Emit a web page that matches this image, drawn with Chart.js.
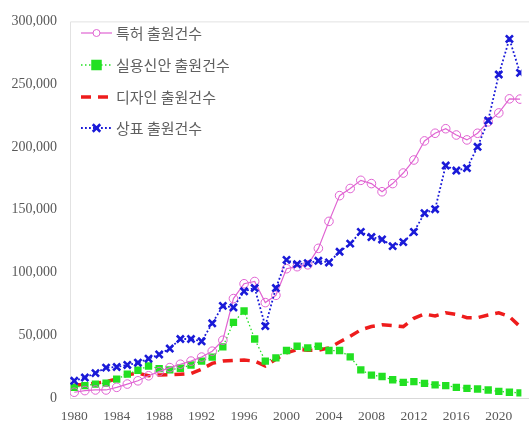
<!DOCTYPE html>
<html><head><meta charset="utf-8">
<script src="https://cdn.jsdelivr.net/npm/chart.js@4"></script>
<style>html,body{margin:0;padding:0;background:#fff;overflow:hidden}#wrap{width:529px;height:421px;position:relative}</style>
</head><body><div id="wrap"><canvas id="c" width="529" height="421"></canvas></div>
<script>
const years = [1980,1981,1982,1983,1984,1985,1986,1987,1988,1989,1990,1991,1992,1993,1994,1995,1996,1997,1998,1999,2000,2001,2002,2003,2004,2005,2006,2007,2008,2009,2010,2011,2012,2013,2014,2015,2016,2017,2018,2019,2020,2021,2022];
const seriesNames = ['특허 출원건수','실용신안 출원건수','디자인 출원건수','상표 출원건수'];
const patents = [4600,5900,6400,6400,8500,11100,13700,17700,21000,24200,26900,29400,32600,37300,46000,79200,91000,92800,76000,81800,103000,104600,106100,119200,140700,161200,166900,173400,170800,164300,170800,179200,189600,204800,210900,214500,209500,205600,210900,220000,227100,238300,238100];
const utility = [8500,9800,11100,11900,15000,19000,22100,25500,23400,22400,23700,26300,29400,32600,40700,60300,69300,47000,29400,32000,37800,41200,39900,41200,37800,37800,32800,22400,18200,17100,14500,12400,13000,11600,10400,9800,8500,7700,7200,6400,5300,4600,4100];
const designs = [10400,10800,11800,13000,15200,18500,19800,17700,18400,18500,19000,19500,22900,27600,29400,30000,30200,29400,25500,30800,36000,38600,38100,38100,39900,44600,49100,54300,56900,58300,57700,56900,63500,66900,65300,67900,66600,64000,64000,66100,67900,64800,56900];
const trademarks = [13700,16300,19800,24200,24700,26300,28100,31300,34700,39400,47000,47000,45200,59500,73400,72100,85000,87600,57300,87600,110000,106600,107400,109300,108000,116500,123000,132300,128200,126300,121000,124200,132300,147200,150400,185200,181200,183100,200100,221000,257700,286000,259000];
const xTicks = [1980,1984,1988,1992,1996,2000,2004,2008,2012,2016,2020];
const yTicks = [0,50000,100000,150000,200000,250000,300000];

const pts = arr => arr.map((v,i)=>({x:years[i], y:v}));
const PINK='#e064d2', GREEN='#22e022', RED='#ee1c1c', BLUE='#1a1ad8';

const datasets = [
 {label:seriesNames[0], data:pts(patents), borderColor:PINK, backgroundColor:'rgba(0,0,0,0)', borderWidth:1.2, pointStyle:'circle', pointRadius:4.3, pointBorderWidth:1, pointBorderColor:PINK, pointBackgroundColor:'rgba(255,255,255,0)', order:1},
 {label:seriesNames[1], data:pts(utility), borderColor:GREEN, backgroundColor:GREEN, borderWidth:1.3, borderDash:[1.5,2.5], pointStyle:'rect', pointRadius:5.2, pointBorderWidth:0, pointBackgroundColor:GREEN, order:2},
 {label:seriesNames[2], data:pts(designs), borderColor:RED, backgroundColor:RED, borderWidth:3.5, borderDash:[10,7], pointRadius:0, order:3},
 {label:seriesNames[3], data:pts(trademarks), borderColor:BLUE, backgroundColor:BLUE, borderWidth:1.8, borderDash:[1.8,2.2], pointStyle:'crossRot', pointRadius:5, pointBorderWidth:2.6, pointBorderColor:BLUE, order:0}
];

function marker(ctx, style, x, y, r, color, bw){
  ctx.save();
  ctx.setLineDash([]);
  if(style==='circle'){ctx.strokeStyle=color;ctx.lineWidth=bw;ctx.beginPath();ctx.arc(x,y,r,0,Math.PI*2);ctx.fillStyle='#fff';ctx.fill();ctx.stroke();}
  else if(style==='rect'){ctx.fillStyle=color;const s=r*Math.SQRT2/1.4;ctx.fillRect(x-s,y-s,2*s,2*s);}
  else if(style==='crossRot'){ctx.strokeStyle=color;ctx.lineWidth=bw;const d=r*0.75;ctx.beginPath();ctx.moveTo(x-d,y-d);ctx.lineTo(x+d,y+d);ctx.moveTo(x+d,y-d);ctx.lineTo(x-d,y+d);ctx.stroke();}
  ctx.restore();
}

const frameLegend = {
  id:'frameLegend',
  beforeDatasetsDraw(chart){
    const {ctx, chartArea:a} = chart;
    ctx.save();
    ctx.strokeStyle='#e2e2e2'; ctx.lineWidth=1;
    ctx.beginPath();
    ctx.moveTo(a.left+0.5, a.bottom); ctx.lineTo(a.left+0.5, a.top+0.5); ctx.lineTo(chart.width, a.top+0.5);
    ctx.stroke();
    ctx.strokeStyle='#d9d9d9';
    ctx.beginPath(); ctx.moveTo(a.left, a.bottom+0.5); ctx.lineTo(chart.width, a.bottom+0.5); ctx.stroke();
    ctx.restore();
  },
  afterDraw(chart){
    const ctx = chart.ctx;
    const rows = [33,65,97,128];
    chart.data.datasets.forEach((ds,i)=>{
      const y = rows[i];
      ctx.save();
      ctx.strokeStyle = ds.borderColor;
      ctx.lineWidth = ds.borderWidth;
      ctx.setLineDash(ds.borderDash||[]);
      ctx.beginPath(); ctx.moveTo(81,y); ctx.lineTo(112,y); ctx.stroke();
      ctx.restore();
      if(ds.pointRadius>0) marker(ctx, ds.pointStyle, 96.5, y, ds.pointStyle==='circle'?3.5:ds.pointRadius, ds.pointStyle==='circle'?ds.pointBorderColor:(ds.pointBorderColor||ds.pointBackgroundColor), ds.pointBorderWidth);
      ctx.save();
      ctx.fillStyle='#5f5f5f';
      ctx.font='15px "Noto Sans CJK KR", sans-serif';
      ctx.textBaseline='middle';
      ctx.fillText(ds.label, 116, y);
      ctx.restore();
    });
  }
};

new Chart(document.getElementById('c'), {
  type:'line',
  data:{datasets},
  options:{
    responsive:false, animation:false,
    layout:{padding:{top:15,right:0,left:0,bottom:0}},
    plugins:{legend:{display:false}, tooltip:{enabled:false}},
    elements:{line:{tension:0}},
    scales:{
      x:{type:'linear', min:1979.6, max:2022.13,
        afterBuildTicks:s=>{s.ticks = xTicks.map(v=>({value:v}));},
        afterFit:s=>{s.height=23;},
        grid:{display:false, drawTicks:false}, border:{display:false},
        ticks:{padding:10, maxRotation:0, autoSkip:false, color:'#595959', font:{family:'"Liberation Serif"', size:13.5}, callback:v=>String(v)}
      },
      y:{min:0, max:300000,
        afterBuildTicks:s=>{s.ticks = yTicks.map(v=>({value:v}));},
        afterFit:s=>{s.width=70;},
        grid:{display:false, drawTicks:false}, border:{display:false},
        ticks:{padding:13, color:'#595959', font:{family:'"Liberation Serif"', size:14}, callback:v=>v.toLocaleString('en-US')}
      }
    }
  },
  plugins:[frameLegend]
});
</script></body></html>
